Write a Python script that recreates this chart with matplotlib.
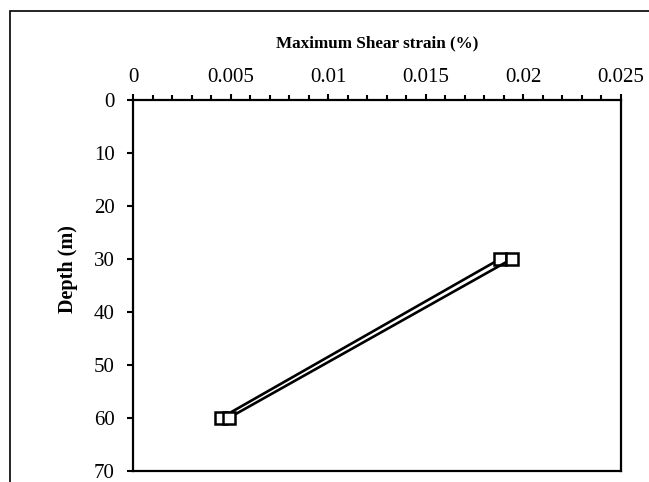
import matplotlib
matplotlib.use("Agg")
import matplotlib.pyplot as plt
from matplotlib.ticker import MultipleLocator, FixedLocator, FixedFormatter
from matplotlib.patches import Rectangle

plt.rcParams['font.family'] = ['Liberation Serif', 'DejaVu Serif']

depth = [30, 60]
strain_a = [0.0188, 0.0045]
strain_b = [0.0194, 0.0049]
x_ticks = [0, 0.005, 0.01, 0.015, 0.02, 0.025]
x_labels = ["0", "0.005", "0.01", "0.015", "0.02", "0.025"]
y_ticks = [0, 10, 20, 30, 40, 50, 60, 70]

fig = plt.figure(figsize=(6.49, 4.82), dpi=100)
ax = fig.add_axes([133/649, 1-471/482, (621-133)/649, (471-100)/482])

for s in (strain_a, strain_b):
    ax.plot(s, depth, color='black', lw=1.9, marker='s', markersize=8.5,
            markerfacecolor='white', markeredgecolor='black', markeredgewidth=1.8)

ax.set_xlim(0, 0.025)
ax.set_ylim(70, 0)
ax.xaxis.tick_top()
ax.xaxis.set_label_position('top')
ax.xaxis.set_major_locator(FixedLocator(x_ticks))
ax.xaxis.set_major_formatter(FixedFormatter(x_labels))
ax.xaxis.set_minor_locator(MultipleLocator(0.001))
ax.yaxis.set_major_locator(FixedLocator(y_ticks))
ax.tick_params(axis='x', which='major', direction='out', length=4, width=1.5,
               labelsize=15, pad=5)
ax.tick_params(axis='x', which='minor', direction='out', length=3.5, width=1.5)
ax.tick_params(axis='y', which='major', direction='out', length=4, width=1.5,
               labelsize=15, pad=9)
for sp in ax.spines.values():
    sp.set_linewidth(1.6)
    sp.set_color('black')

ax.set_xlabel('Maximum Shear strain (%)', fontsize=12.3, fontweight='bold', labelpad=15)
ax.set_ylabel('Depth (m)', fontsize=14.5, fontweight='bold', va='center')
ax.yaxis.set_label_coords((68 - 133) / 488, (471 - 269) / 371)

fig.patches.append(Rectangle((9.5/649, -0.1), 1.2, 1 - 10.5/482 + 0.1,
                             transform=fig.transFigure, fill=False,
                             edgecolor='black', lw=1.2, clip_on=False))

fig.savefig('out.png', dpi=100)
